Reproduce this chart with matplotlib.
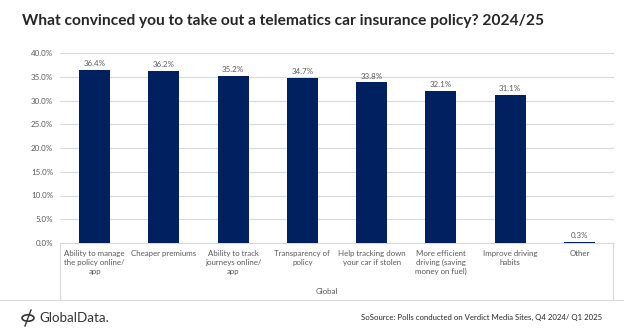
import matplotlib.pyplot as plt
from matplotlib.lines import Line2D
from matplotlib.patches import Circle
from matplotlib.ticker import PercentFormatter

# Telematics insurance poll, 2024/25

categories = [
    "Ability to manage\nthe policy online/\napp",
    "Cheaper premiums",
    "Ability to track\njourneys online/\napp",
    "Transparency of\npolicy",
    "Help tracking down\nyour car if stolen",
    "More efficient\ndriving (saving\nmoney on fuel)",
    "Improve driving\nhabits",
    "Other",
]
values = [36.4, 36.2, 35.2, 34.7, 33.8, 32.1, 31.1, 0.3]
y_ticks = [0, 5, 10, 15, 20, 25, 30, 35, 40]

W, H = 624, 334
BAR = "#002060"
GREY = "#595959"
LINE = "#d9d9d9"

plt.rcParams['font.family'] = ['Lato', 'DejaVu Sans']

fig = plt.figure(figsize=(W / 100, H / 100), dpi=100)
ax = fig.add_axes([60 / W, 1 - 243 / H, (614 - 60) / W, (243 - 53) / H])

x = range(len(values))
ax.bar(x, values, width=0.45, color=BAR, zorder=3)
for i, v in enumerate(values):
    ax.text(i, v + 0.6, f"{v:.1f}%", ha='center', va='bottom', fontsize=5.7, color=GREY)

ax.set_xlim(-0.5, len(values) - 0.5)
ax.set_ylim(0, 40)
ax.set_yticks(y_ticks)
ax.yaxis.set_major_formatter(PercentFormatter(decimals=1))
ax.tick_params(axis='y', length=0, labelsize=5.7, labelcolor=GREY, pad=5)
ax.grid(axis='y', color=LINE, linewidth=0.8, zorder=0)
for s in ['top', 'right', 'left']:
    ax.spines[s].set_visible(False)
ax.spines['bottom'].set_color(LINE)
ax.set_xticks(list(x))
ax.set_xticklabels(categories, fontsize=5.7, color=GREY, linespacing=1.3)
ax.tick_params(axis='x', length=0, pad=5)

# category box below the axis
fig.add_artist(Line2D([60 / W, 60 / W], [1 - 243 / H, 1 - 300 / H], color=LINE, lw=0.8))
fig.add_artist(Line2D([613 / W, 613 / W], [1 - 243 / H, 1 - 300 / H], color=LINE, lw=0.8))
fig.add_artist(Line2D([0, 1], [1 - 300 / H, 1 - 300 / H], color=LINE, lw=0.8))
fig.text(327 / W, 1 - 292 / H, "Global", ha='center', va='center', fontsize=5.7, color=GREY)

fig.text(22 / W, 1 - 21 / H, "What convinced you to take out a telematics car insurance policy? 2024/25",
         ha='left', va='center', fontsize=11.2, fontweight='bold', color='#262626')

# footer
fig.add_artist(Circle((28 / W, 1 - 318 / H), 6 / W, transform=fig.transFigure,
                      fill=False, ec='#333333', lw=1.2))
fig.add_artist(Line2D([25 / W, 31 / W], [1 - 326 / H, 1 - 310 / H], color='#333333', lw=1.0))
fig.text(39 / W, 1 - 318 / H, "GlobalData.", ha='left', va='center', fontsize=9.6, color='#333333')
fig.text(602 / W, 1 - 317 / H, "SoSource: Polls conducted on Verdict Media Sites, Q4 2024/ Q1 2025",
         ha='right', va='center', fontsize=5.6, color='#262626')

fig.savefig("out.png", dpi=100)
